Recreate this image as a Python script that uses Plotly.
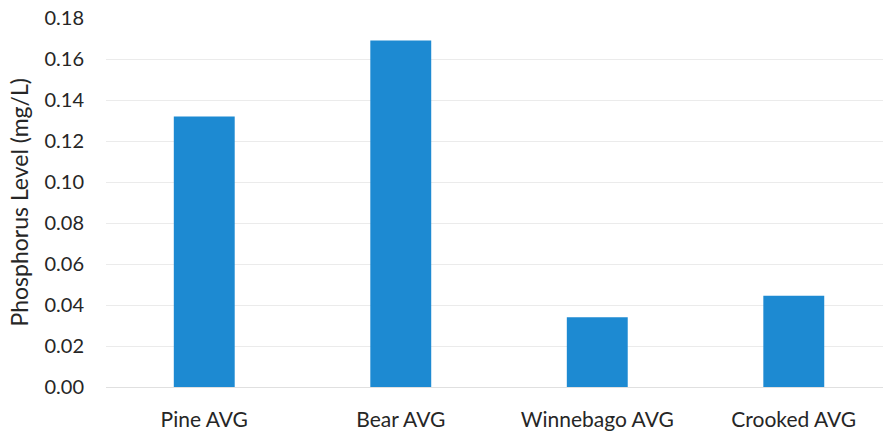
import plotly.graph_objects as go

# Average phosphorus level per lake (mg/L)
lakes = ["Pine AVG", "Bear AVG", "Winnebago AVG", "Crooked AVG"]
phosphorus = [0.132, 0.169, 0.034, 0.0445]
y_ticks = [0.00, 0.02, 0.04, 0.06, 0.08, 0.10, 0.12, 0.14, 0.16, 0.18]

fig = go.Figure(
    go.Bar(
        x=list(range(len(lakes))),
        y=phosphorus,
        width=0.31,
        marker=dict(color="#1d8ad2", line=dict(width=0)),
    )
)

font_family = "Lato, Open Sans, sans-serif"
text_color = "#262626"

W, H = 883, 438
L, R, T, B = 106, 0, 18, 51
plot_w = W - L - R
plot_h = H - T - B

fig.update_layout(
    width=W,
    height=H,
    margin=dict(l=L, r=R, t=T, b=B),
    paper_bgcolor="white",
    plot_bgcolor="white",
    showlegend=False,
    font=dict(family=font_family, size=20, color=text_color),
    xaxis=dict(
        range=[-0.5, 3.454],
        tickmode="array",
        tickvals=list(range(len(lakes))),
        ticktext=lakes,
        showgrid=False,
        zeroline=False,
        showline=False,
        ticks="",
        ticklabelstandoff=18,
        tickfont=dict(size=21, color=text_color),
    ),
    yaxis=dict(
        range=[0, 0.18],
        tickmode="array",
        tickvals=y_ticks,
        ticktext=[f"{v:.2f}" for v in y_ticks],
        showgrid=True,
        gridcolor="#ebebeb",
        gridwidth=1,
        zeroline=True,
        zerolinecolor="#e0e0e0",
        zerolinewidth=1,
        showline=False,
        ticks="",
        ticklabelstandoff=21,
        tickfont=dict(size=20, color=text_color),
    ),
    annotations=[
        dict(
            text="Phosphorus Level (mg/L)",
            textangle=-90,
            xref="paper",
            yref="paper",
            x=(18 - L) / plot_w,
            y=0.5,
            xanchor="center",
            yanchor="middle",
            showarrow=False,
            font=dict(size=23, color=text_color),
        )
    ],
)

fig.write_html("out.html")
